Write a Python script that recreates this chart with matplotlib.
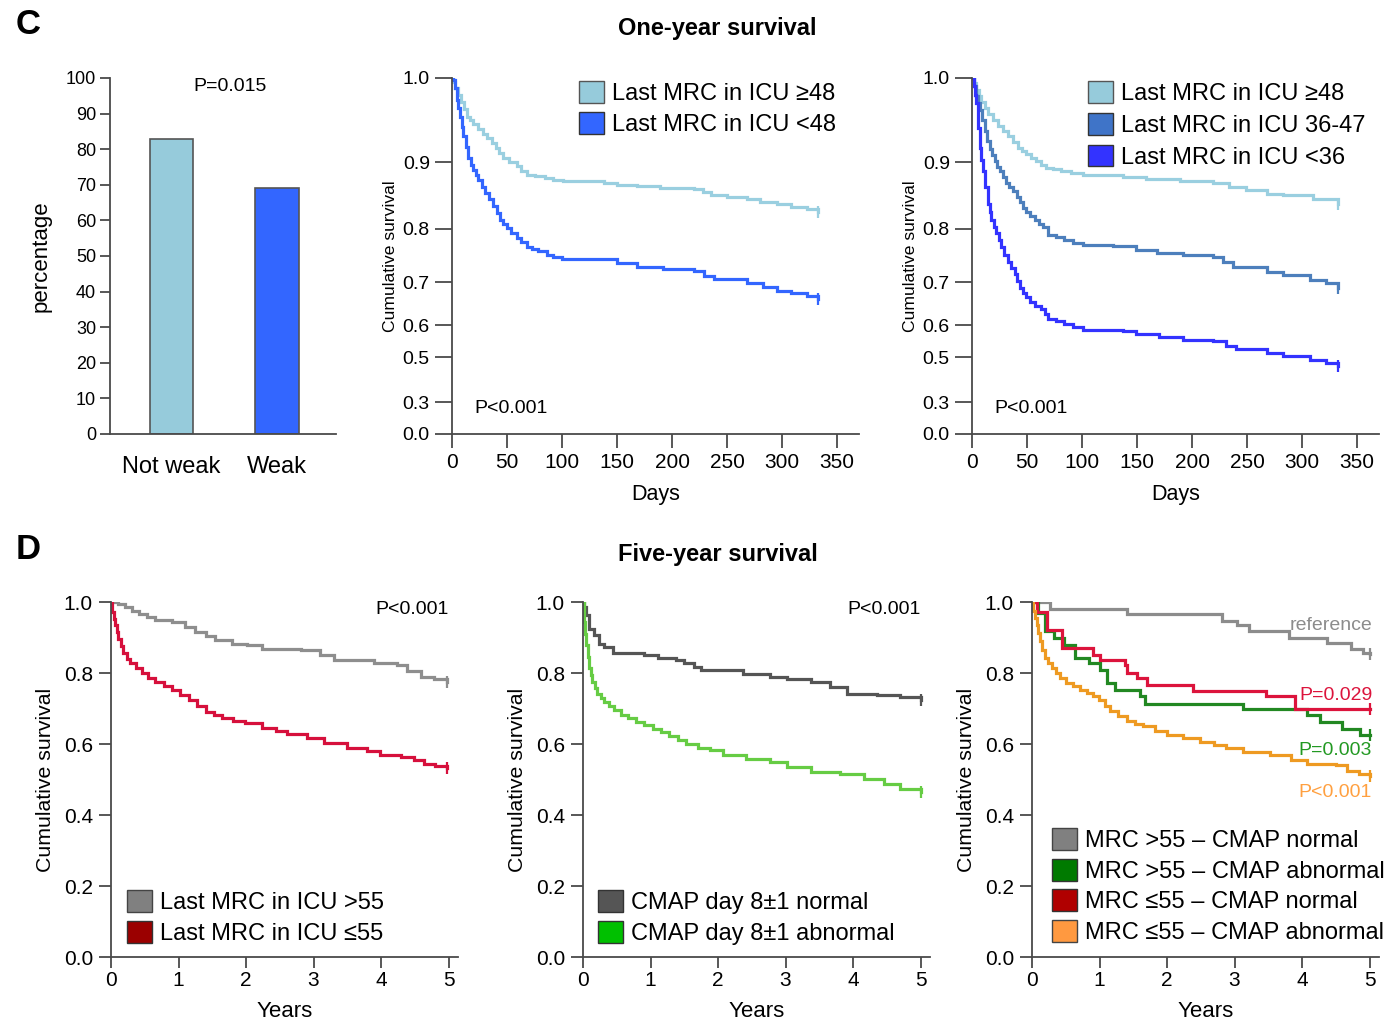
import numpy as np
import matplotlib
matplotlib.use("Agg")
import matplotlib.pyplot as plt
from matplotlib.patches import Patch
from matplotlib.ticker import FormatStrFormatter, NullLocator

plt.rcParams['font.family'] = ['Liberation Sans', 'DejaVu Sans']

W, H = 1393, 1022

# ---- data -------------------------------------------------------------
bar_labels = ["Not weak", "Weak"]
bar_values = [83, 69]

# one-year survival, last MRC in ICU >=48 / <48 (days, cumulative survival)
c2_hi_t = [0, 1.2, 3, 5.8, 8, 10.5, 13.3, 16, 19, 24, 28, 32, 36, 40, 43, 46.7, 52, 58.8, 63, 67.9, 75, 84.5, 92, 101,
           138, 150, 168, 189, 220, 228, 235, 250, 268, 280, 295, 308, 323, 333]
c2_hi_s = [1.0, 0.995, 0.988, 0.980, 0.972, 0.963, 0.954, 0.950, 0.945, 0.939, 0.933, 0.928, 0.923, 0.917, 0.911, 0.905,
           0.900, 0.894, 0.887, 0.881, 0.879, 0.876, 0.873, 0.871, 0.869, 0.866, 0.864, 0.861, 0.859, 0.855, 0.851, 0.848,
           0.844, 0.840, 0.837, 0.833, 0.830, 0.825]
c2_lo_t = [0, 1.2, 2.5, 4.2, 5.8, 7.3, 9, 10.3, 12.5, 14.8, 17, 19.4, 21.5, 24, 27, 30, 33.5, 37.5, 40.5, 43.6, 46.5, 49.7,
           54, 58.8, 63, 67.9, 73, 78.5, 86, 92, 99.7, 138, 150, 168, 192, 220, 229, 238, 268, 283, 295, 308, 323, 333]
c2_lo_s = [1.0, 0.998, 0.988, 0.974, 0.964, 0.954, 0.942, 0.931, 0.918, 0.905, 0.896, 0.888, 0.881, 0.873, 0.863, 0.854,
           0.844, 0.834, 0.824, 0.814, 0.807, 0.801, 0.792, 0.783, 0.775, 0.767, 0.762, 0.758, 0.752, 0.748, 0.744, 0.743,
           0.736, 0.729, 0.725, 0.722, 0.712, 0.706, 0.698, 0.689, 0.681, 0.675, 0.668, 0.662]

# one-year survival, three MRC groups
c3_hi_t = [0, 1.5, 4, 6, 8.6, 11.5, 14.5, 19, 23.6, 28, 32.7, 37, 41.8, 45.5, 49.5, 54, 58.5, 63, 67.6, 74, 81.3, 90, 101,
           137, 158, 189, 219, 234, 249, 268, 283, 310, 333]
c3_hi_s = [1.0, 0.994, 0.986, 0.979, 0.972, 0.964, 0.957, 0.950, 0.943, 0.937, 0.931, 0.924, 0.917, 0.913, 0.909, 0.905,
           0.901, 0.896, 0.891, 0.889, 0.886, 0.883, 0.880, 0.878, 0.875, 0.871, 0.868, 0.862, 0.858, 0.852, 0.850, 0.845, 0.837]
c3_mid_t = [0, 1.5, 4, 5.5, 7, 9, 11.5, 14, 16, 18.5, 20.6, 23, 25, 28, 31.3, 34, 37.3, 40.5, 43.4, 46.5, 49.5, 53, 57, 61,
            64.5, 69, 76, 84, 92, 101, 128, 149, 168, 192, 219, 228, 237, 268, 283, 307, 322, 333]
c3_mid_s = [1.0, 0.99, 0.978, 0.970, 0.962, 0.950, 0.937, 0.925, 0.915, 0.908, 0.901, 0.893, 0.886, 0.877, 0.869, 0.863,
            0.857, 0.848, 0.840, 0.832, 0.825, 0.819, 0.813, 0.808, 0.803, 0.789, 0.784, 0.779, 0.774, 0.769, 0.768, 0.760,
            0.755, 0.751, 0.748, 0.738, 0.729, 0.720, 0.713, 0.704, 0.699, 0.688]
c3_lo_t = [0, 1.5, 2.8, 4, 5.5, 7, 8.5, 10, 12, 14.5, 16, 17.6, 20, 22.2, 24.5, 26.7, 29.5, 32.7, 35.5, 38.8, 41, 43.4,
           46.5, 49.5, 53, 57, 63, 66, 69, 76, 84, 92, 101, 137, 149, 170, 192, 219, 231, 240, 268, 283, 307, 322, 333]
c3_lo_s = [1.0, 0.99, 0.980, 0.970, 0.941, 0.917, 0.902, 0.886, 0.862, 0.838, 0.826, 0.813, 0.803, 0.792, 0.779, 0.766,
           0.752, 0.738, 0.727, 0.716, 0.702, 0.688, 0.676, 0.665, 0.655, 0.646, 0.638, 0.626, 0.615, 0.610, 0.604, 0.596,
           0.587, 0.584, 0.572, 0.564, 0.556, 0.552, 0.535, 0.525, 0.515, 0.505, 0.489, 0.474, 0.462]

# five-year survival, last MRC in ICU >55 / <=55 (years)
d1_hi_t = [0, 0.1, 0.21, 0.31, 0.41, 0.53, 0.65, 0.90, 1.1, 1.25, 1.4, 1.54, 1.79, 2.01, 2.24, 2.81, 3.10, 3.30, 3.75, 3.90,
           4.24, 4.39, 4.59, 4.79, 4.98]
d1_hi_s = [1.0, 0.994, 0.986, 0.976, 0.967, 0.957, 0.949, 0.944, 0.930, 0.916, 0.904, 0.892, 0.883, 0.878, 0.869, 0.864,
           0.850, 0.838, 0.836, 0.827, 0.822, 0.806, 0.789, 0.782, 0.775]
d1_lo_t = [0, 0.01, 0.02, 0.04, 0.06, 0.085, 0.11, 0.145, 0.18, 0.23, 0.28, 0.37, 0.46, 0.55, 0.65, 0.78, 0.90, 1.02, 1.15,
           1.27, 1.40, 1.52, 1.64, 1.80, 1.99, 2.24, 2.45, 2.61, 2.90, 3.15, 3.50, 3.79, 3.99, 4.29, 4.49, 4.64, 4.80, 4.98]
d1_lo_s = [1.0, 0.99, 0.972, 0.953, 0.934, 0.915, 0.897, 0.876, 0.855, 0.840, 0.827, 0.813, 0.799, 0.787, 0.775, 0.764,
           0.752, 0.738, 0.724, 0.708, 0.691, 0.681, 0.672, 0.665, 0.658, 0.646, 0.637, 0.628, 0.616, 0.602, 0.590, 0.581,
           0.569, 0.564, 0.555, 0.544, 0.538, 0.532]

# five-year survival, CMAP day 8+-1 normal / abnormal
d2_norm_t = [0, 0.02, 0.05, 0.09, 0.16, 0.24, 0.31, 0.44, 0.91, 1.11, 1.38, 1.50, 1.65, 1.75, 2.37, 2.77, 3.02, 3.37,
             3.66, 3.91, 4.35, 4.70, 5.0]
d2_norm_s = [1.0, 0.985, 0.963, 0.925, 0.906, 0.883, 0.873, 0.855, 0.850, 0.841, 0.836, 0.827, 0.817, 0.808, 0.796, 0.789,
             0.782, 0.775, 0.761, 0.742, 0.738, 0.731, 0.723]
d2_abn_t = [0, 0.01, 0.02, 0.035, 0.05, 0.07, 0.09, 0.115, 0.14, 0.175, 0.21, 0.26, 0.31, 0.38, 0.46, 0.56, 0.66, 0.78, 0.91,
            1.03, 1.15, 1.28, 1.40, 1.53, 1.70, 1.88, 2.08, 2.42, 2.77, 3.02, 3.37, 3.81, 4.16, 4.46, 4.70, 5.0]
d2_abn_s = [1.0, 0.975, 0.944, 0.911, 0.878, 0.845, 0.813, 0.794, 0.775, 0.758, 0.742, 0.730, 0.719, 0.707, 0.695, 0.683,
            0.672, 0.662, 0.653, 0.643, 0.634, 0.622, 0.611, 0.600, 0.590, 0.582, 0.568, 0.559, 0.549, 0.535, 0.521, 0.515,
            0.502, 0.488, 0.474, 0.464]

# five-year survival, MRC x CMAP combinations
d3_ref_t = [0, 0.27, 1.40, 2.81, 3.04, 3.21, 3.80, 4.37, 4.72, 4.90, 5.0]
d3_ref_s = [1.0, 0.980, 0.965, 0.947, 0.936, 0.917, 0.898, 0.884, 0.868, 0.855, 0.853]
d3_mrc_abn_t = [0, 0.09, 0.19, 0.32, 0.47, 0.64, 0.84, 1.01, 1.11, 1.23, 1.60, 1.68, 3.13, 4.07, 4.27, 4.59, 4.86, 5.0]
d3_mrc_abn_s = [1.0, 0.968, 0.917, 0.898, 0.879, 0.842, 0.828, 0.809, 0.771, 0.753, 0.734, 0.712, 0.700, 0.681, 0.662,
                0.643, 0.624, 0.624]
d3_cmap_norm_t = [0, 0.07, 0.22, 0.44, 0.91, 1.01, 1.38, 1.40, 1.55, 1.70, 2.39, 3.46, 3.90, 5.0]
d3_cmap_norm_s = [1.0, 0.973, 0.921, 0.870, 0.851, 0.837, 0.823, 0.800, 0.785, 0.765, 0.748, 0.736, 0.700, 0.700]
d3_both_t = [0, 0.02, 0.04, 0.07, 0.095, 0.12, 0.155, 0.19, 0.24, 0.29, 0.35, 0.42, 0.51, 0.61, 0.71, 0.81, 0.90, 0.99,
             1.08, 1.16, 1.28, 1.40, 1.52, 1.65, 1.82, 2.0, 2.24, 2.49, 2.70, 2.88, 3.13, 3.53, 3.83, 4.07, 4.51, 4.66, 4.85, 5.0]
d3_both_s = [1.0, 0.975, 0.955, 0.935, 0.912, 0.889, 0.865, 0.842, 0.828, 0.814, 0.800, 0.785, 0.773, 0.762, 0.752, 0.743,
             0.734, 0.724, 0.708, 0.692, 0.678, 0.664, 0.657, 0.650, 0.638, 0.626, 0.616, 0.607, 0.598, 0.589, 0.577, 0.568,
             0.554, 0.544, 0.540, 0.523, 0.515, 0.511]

# non-linear survival axis used in the one-year plots (tick value -> axis fraction)
scale_s = [0.0, 0.3, 0.5, 0.6, 0.7, 0.8, 0.9, 1.0]
scale_f = [0.0, 0.089, 0.215, 0.305, 0.426, 0.576, 0.764, 1.0]

# ---- layout helpers ---------------------------------------------------
fig = plt.figure(figsize=(W / 100, H / 100), dpi=100)
AX_COL = "#4a4a4a"


def px_axes(left, top, right, bottom):
    return fig.add_axes([left / W, 1 - bottom / H, (right - left) / W, (bottom - top) / H])


def style(ax):
    for s in ["top", "right"]:
        ax.spines[s].set_visible(False)
    for s in ["left", "bottom"]:
        ax.spines[s].set_color(AX_COL)
        ax.spines[s].set_linewidth(1.3)
    ax.tick_params(colors=AX_COL, labelcolor="black", width=1.3)


def add_legend(ax, handles, x, y, spacing=0.3):
    ax.legend(handles=handles, loc="upper left", bbox_to_anchor=(x / W, 1 - y / H),
              bbox_transform=fig.transFigure, frameon=False, borderpad=0, borderaxespad=0,
              fontsize=17, handlelength=1.05, handleheight=1.05, handletextpad=0.35,
              labelspacing=spacing)


def km(ax, t, s, color, lw=2.3):
    ax.plot(t, s, drawstyle="steps-post", color=color, lw=lw, solid_joinstyle="miter")
    ax.plot(t[-1], s[-1], marker="|", ms=9, mew=1.6, color=color)


# ---- C: bar chart -----------------------------------------------------
ax = px_axes(110, 78, 336, 434)
style(ax)
ax.bar([0, 1], bar_values, width=0.41, color=["#96cbdb", "#3366ff"], edgecolor="#555555", lw=1.2)
ax.set_xlim(-0.583, 1.559)
ax.set_ylim(0, 100)
ax.set_yticks(range(0, 101, 10))
ax.set_xticks([0, 1])
ax.set_xticklabels(bar_labels, fontsize=17)
ax.tick_params(axis="x", length=0, pad=16)
ax.tick_params(axis="y", length=7, labelsize=13, pad=3)
ax.set_ylabel("percentage", fontsize=16, labelpad=10)
ax.text(0.555, 97.5, "P=0.015", fontsize=14, ha="center", va="center")


def one_year_axes(left):
    ax = px_axes(left, 78, left + 407, 434)
    style(ax)
    ax.set_yscale("function", functions=(lambda v: np.interp(v, scale_s, scale_f),
                                          lambda f: np.interp(f, scale_f, scale_s)))
    ax.set_ylim(0, 1.0)
    ax.set_xlim(0, 370)
    ax.set_yticks(scale_s)
    ax.yaxis.set_major_formatter(FormatStrFormatter("%.1f"))
    ax.yaxis.set_minor_locator(NullLocator())
    ax.set_xticks(range(0, 351, 50))
    ax.tick_params(axis="y", length=12, labelsize=14, pad=4)
    ax.tick_params(axis="x", length=10, labelsize=15, pad=4)
    ax.set_xlabel("Days", fontsize=15.5, labelpad=8)
    ax.set_ylabel("Cumulative survival", fontsize=12.6, labelpad=3)
    ax.text(0.054, 0.071, "P<0.001", transform=ax.transAxes, fontsize=14, ha="left", va="center")
    return ax


ax = one_year_axes(452)
km(ax, c2_hi_t, c2_hi_s, "#9acfe0")
km(ax, c2_lo_t, c2_lo_s, "#3366ff")
add_legend(ax, [Patch(fc="#96cbdb", ec="#555555", label="Last MRC in ICU \u226548"),
                Patch(fc="#3366ff", ec="#333333", label="Last MRC in ICU <48")], 579, 81)

ax = one_year_axes(972)
km(ax, c3_hi_t, c3_hi_s, "#9acfe0")
km(ax, c3_mid_t, c3_mid_s, "#4d7fbc")
km(ax, c3_lo_t, c3_lo_s, "#3333ff")
add_legend(ax, [Patch(fc="#96cbdb", ec="#555555", label="Last MRC in ICU \u226548"),
                Patch(fc="#3f74c8", ec="#333333", label="Last MRC in ICU 36-47"),
                Patch(fc="#3333ff", ec="#333333", label="Last MRC in ICU <36")], 1088, 81, spacing=0.33)


# ---- D: five-year survival -------------------------------------------
def five_year_axes(left):
    ax = px_axes(left, 602, left + 347, 957)
    style(ax)
    ax.set_ylim(0, 1.0)
    ax.set_xlim(0, 5.14)
    ax.set_yticks(np.arange(0, 1.01, 0.2))
    ax.yaxis.set_major_formatter(FormatStrFormatter("%.1f"))
    ax.set_xticks(range(6))
    ax.tick_params(axis="y", length=9, labelsize=15, pad=4)
    ax.tick_params(axis="x", length=8, labelsize=15, pad=2)
    ax.set_xlabel("Years", fontsize=16, labelpad=8)
    ax.set_ylabel("Cumulative survival", fontsize=15.3, labelpad=6)
    return ax


ax = five_year_axes(111)
km(ax, d1_hi_t, d1_hi_s, "#8e8e8e")
km(ax, d1_lo_t, d1_lo_s, "#d6103c")
ax.text(5.0, 0.979, "P<0.001", fontsize=14, ha="right", va="center")
add_legend(ax, [Patch(fc="#808080", ec="#444444", label="Last MRC in ICU >55"),
                Patch(fc="#9b0000", ec="#333333", label="Last MRC in ICU \u226455")], 127, 890)

ax = five_year_axes(583)
km(ax, d2_norm_t, d2_norm_s, "#555555")
km(ax, d2_abn_t, d2_abn_s, "#66cc44")
ax.text(5.0, 0.979, "P<0.001", fontsize=14, ha="right", va="center")
add_legend(ax, [Patch(fc="#555555", ec="#333333", label="CMAP day 8\u00b11 normal"),
                Patch(fc="#00c000", ec="#333333", label="CMAP day 8\u00b11 abnormal")], 598, 890)

ax = five_year_axes(1032)
km(ax, d3_ref_t, d3_ref_s, "#8c8c8c")
km(ax, d3_mrc_abn_t, d3_mrc_abn_s, "#228822")
km(ax, d3_cmap_norm_t, d3_cmap_norm_s, "#dc143c")
km(ax, d3_both_t, d3_both_s, "#ee9a22")
ax.text(5.04, 0.934, "reference", fontsize=14, ha="right", va="center", color="#8c8c8c")
ax.text(5.04, 0.738, "P=0.029", fontsize=14, ha="right", va="center", color="#dc143c")
ax.text(5.04, 0.583, "P=0.003", fontsize=14, ha="right", va="center", color="#229922")
ax.text(5.04, 0.462, "P<0.001", fontsize=14, ha="right", va="center", color="#ffa040")
add_legend(ax, [Patch(fc="#808080", ec="#444444", label="MRC >55 \u2013 CMAP normal"),
                Patch(fc="#007a00", ec="#333333", label="MRC >55 \u2013 CMAP abnormal"),
                Patch(fc="#b00000", ec="#333333", label="MRC \u226455 \u2013 CMAP normal"),
                Patch(fc="#ff9940", ec="#444444", label="MRC \u226455 \u2013 CMAP abnormal")], 1052, 828, spacing=0.28)

# ---- panel letters and titles ----------------------------------------
fig.text(28 / W, 1 - 24 / H, "C", fontsize=25, fontweight="bold", ha="center", va="center")
fig.text(717 / W, 1 - 28 / H, "One-year survival", fontsize=17, fontweight="bold", ha="center", va="center")
fig.text(28 / W, 1 - 549 / H, "D", fontsize=25, fontweight="bold", ha="center", va="center")
fig.text(718 / W, 1 - 554 / H, "Five-year survival", fontsize=17, fontweight="bold", ha="center", va="center")

fig.savefig("out.png", dpi=100)
